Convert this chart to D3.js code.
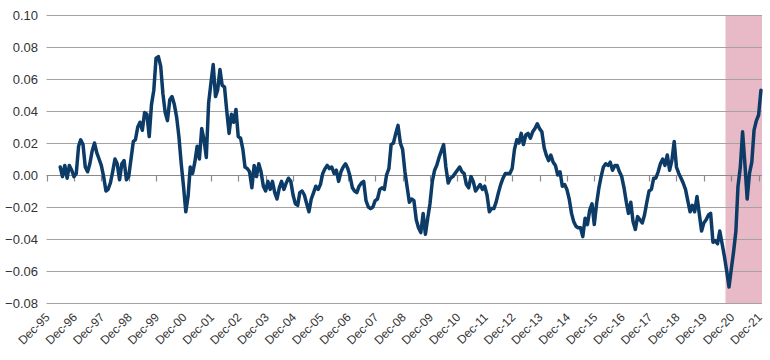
<!DOCTYPE html>
<html>
<head>
<meta charset="utf-8">
<script src="https://cdn.jsdelivr.net/npm/d3@7"></script>
<style>
  html, body { margin: 0; padding: 0; background: #ffffff; }
  svg { display: block; }
  text { font-family: "Liberation Sans", Arial, Helvetica, sans-serif; fill: #333333; }
</style>
</head>
<body>
<svg id="chart" width="770" height="360"></svg>
<script>
// ---- data ----
const startMonth = "1996-06";
const values = [
  // 1996 Jun-Dec
  0.005, -0.001, 0.006, -0.002, 0.006, 0.003, -0.001,
  // 1997
  0.001, 0.018, 0.022, 0.019, 0.005, 0.002, 0.007, 0.015, 0.020, 0.014, 0.010, 0.006,
  // 1998
  -0.001, -0.010, -0.009, -0.005, 0.002, 0.010, 0.007, -0.003, 0.007, 0.009, -0.003, -0.001,
  // 1999
  0.010, 0.021, 0.022, 0.030, 0.033, 0.028, 0.039, 0.038, 0.024, 0.044, 0.053, 0.073,
  // 2000
  0.074, 0.068, 0.051, 0.039, 0.034, 0.047, 0.049, 0.044, 0.036, 0.024, 0.007, -0.007,
  // 2001
  -0.023, -0.013, 0.005, 0.001, 0.008, 0.018, 0.010, 0.029, 0.022, 0.011, 0.045, 0.057,
  // 2002
  0.069, 0.049, 0.053, 0.066, 0.056, 0.055, 0.040, 0.026, 0.038, 0.033, 0.041, 0.024,
  // 2003
  0.023, 0.016, 0.005, 0.004, 0.002, -0.008, 0.006, -0.001, 0.007, 0.002, -0.007, -0.010,
  // 2004
  -0.004, -0.009, -0.004, -0.011, -0.015, -0.008, -0.004, -0.009, -0.005, -0.002, -0.004, -0.0125,
  // 2005
  -0.018, -0.019, -0.011, -0.010, -0.0125, -0.018, -0.023, -0.015, -0.011, -0.007, -0.009, -0.006,
  // 2006
  0.001, 0.004, 0.006, 0.004, 0.005, 0.001, 0.003, -0.004, 0.002, 0.005, 0.007, 0.004,
  // 2007
  -0.001, -0.008, -0.010, -0.011, -0.007, -0.005, -0.004, -0.016, -0.020, -0.021, -0.020, -0.016,
  // 2008
  -0.015, -0.009, -0.008, -0.009, 0.000, 0.004, 0.019, 0.020, 0.026, 0.031, 0.020, 0.016,
  // 2009
  0.002, -0.008, -0.017, -0.015, -0.016, -0.028, -0.033, -0.036, -0.024, -0.037, -0.027, -0.018,
  // 2010
  -0.004, 0.003, 0.006, 0.011, 0.015, 0.019, 0.005, -0.005, -0.002, -0.001, 0.001, 0.003,
  // 2011
  0.005, 0.002, 0.001, -0.006, -0.008, -0.001, -0.004, -0.010, -0.008, -0.006, -0.009, -0.007,
  // 2012
  -0.0125, -0.023, -0.021, -0.021, -0.017, -0.011, -0.006, -0.002, 0.001, 0.001, 0.001, 0.004,
  // 2013
  0.016, 0.022, 0.020, 0.026, 0.019, 0.025, 0.026, 0.023, 0.027, 0.029, 0.032, 0.029,
  // 2014
  0.027, 0.017, 0.0125, 0.009, 0.0125, 0.008, 0.006, 0.000, 0.002, -0.007, -0.006, -0.009,
  // 2015
  -0.015, -0.024, -0.029, -0.032, -0.033, -0.033, -0.0385, -0.027, -0.031, -0.022, -0.018, -0.031,
  // 2016
  -0.018, -0.008, -0.001, 0.005, 0.007, 0.006, 0.008, 0.003, 0.006, 0.006, 0.002, -0.001,
  // 2017
  -0.008, -0.017, -0.024, -0.017, -0.029, -0.034, -0.026, -0.028, -0.030, -0.025, -0.017, -0.010,
  // 2018
  -0.009, -0.002, -0.002, 0.002, 0.007, 0.010, 0.006, 0.0125, 0.003, 0.009, 0.021, 0.005,
  // 2019
  0.001, -0.002, -0.005, -0.009, -0.016, -0.023, -0.019, -0.023, -0.0135, -0.024, -0.035, -0.030,
  // 2020
  -0.028, -0.025, -0.024, -0.042, -0.041, -0.043, -0.035, -0.043, -0.051, -0.060, -0.070, -0.059,
  // 2021
  -0.048, -0.035, -0.007, 0.005, 0.027, 0.007, -0.015, 0.001, 0.008, 0.028, 0.034, 0.0375,
  // 2022 Jan
  0.053
];
const yTicks = [-0.08, -0.06, -0.04, -0.02, 0.00, 0.02, 0.04, 0.06, 0.08, 0.10];
const xTickLabels = ["Dec-95","Dec-96","Dec-97","Dec-98","Dec-99","Dec-00","Dec-01","Dec-02",
  "Dec-03","Dec-04","Dec-05","Dec-06","Dec-07","Dec-08","Dec-09","Dec-10","Dec-11","Dec-12",
  "Dec-13","Dec-14","Dec-15","Dec-16","Dec-17","Dec-18","Dec-19","Dec-20","Dec-21"];
const shadeStart = "2020-09-15";

// ---- build ----
(function () {
  const parseMonth = d3.timeParse("%Y-%m");
  const parseDay = d3.timeParse("%Y-%m-%d");
  const t0 = parseMonth(startMonth);
  const series = values.map((v, i) => ({ date: d3.timeMonth.offset(t0, i), value: v }));
  const tickDates = xTickLabels.map(l => {
    const yy = +l.slice(4);
    return new Date(yy < 50 ? 2000 + yy : 1900 + yy, 11, 1);
  });

  const svg = d3.select("#chart");
  const pL = 46.5, pR = 762, pT = 15, pB = 303;

  const x = d3.scaleTime()
    .domain([new Date(1995, 11, 1), new Date(2022, 0, 15)])
    .range([pL, pR]);
  const y = d3.scaleLinear().domain([-0.08, 0.10]).range([pB, pT]);

  // shaded region
  const sx = x(parseDay(shadeStart));
  svg.append("rect")
    .attr("x", sx)
    .attr("y", pT)
    .attr("width", pR - sx)
    .attr("height", pB - pT)
    .attr("fill", "#e8b9c7");

  // gridlines
  svg.append("g")
    .selectAll("line")
    .data(yTicks.filter(d => d !== 0))
    .join("line")
    .attr("x1", pL).attr("x2", pR)
    .attr("y1", d => Math.round(y(d)) + 0.5)
    .attr("y2", d => Math.round(y(d)) + 0.5)
    .attr("stroke", "#a3a3a3")
    .attr("stroke-width", 1.2);

  // y labels
  svg.append("g")
    .selectAll("text")
    .data(yTicks)
    .join("text")
    .attr("x", 38)
    .attr("y", d => y(d))
    .attr("dy", "0.36em")
    .attr("text-anchor", "end")
    .style("font-size", "13px")
    .text(d => d3.format(".2f")(d));

  // zero axis with ticks
  const zeroY = Math.round(y(0)) + 0.5;
  svg.append("line")
    .attr("x1", pL).attr("x2", pR)
    .attr("y1", zeroY).attr("y2", zeroY)
    .attr("stroke", "#8a8a8a").attr("stroke-width", 1.2);
  svg.append("g")
    .selectAll("line")
    .data(tickDates)
    .join("line")
    .attr("x1", d => Math.round(x(d)) + 0.5)
    .attr("x2", d => Math.round(x(d)) + 0.5)
    .attr("y1", zeroY).attr("y2", zeroY + 6)
    .attr("stroke", "#8a8a8a").attr("stroke-width", 1.2);

  // x labels at bottom
  svg.append("g")
    .selectAll("text")
    .data(tickDates)
    .join("text")
    .attr("transform", d => `translate(${x(d) + 4},318) rotate(-45)`)
    .attr("text-anchor", "end")
    .style("font-size", "12px")
    .text((d, i) => xTickLabels[i]);

  // line
  const line = d3.line().x(d => x(d.date)).y(d => y(d.value));
  svg.append("path")
    .datum(series)
    .attr("d", line)
    .attr("fill", "none")
    .attr("stroke", "#0b3b66")
    .attr("stroke-width", 3.5)
    .attr("stroke-linejoin", "round")
    .attr("stroke-linecap", "round");
})();
</script>
</body>
</html>
